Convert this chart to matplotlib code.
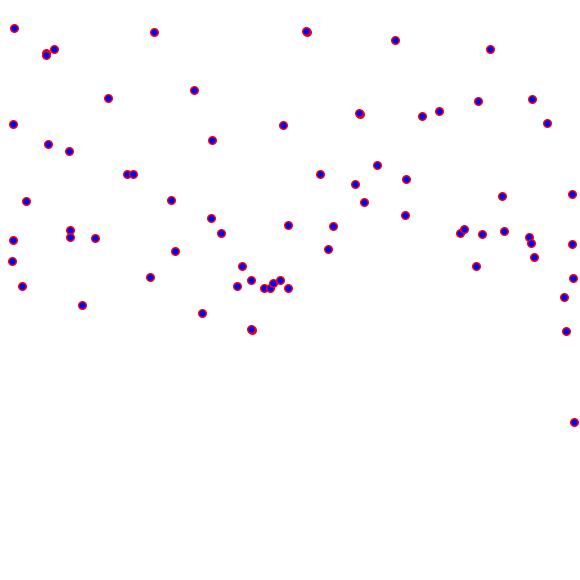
import numpy as np
import matplotlib
matplotlib.use('Agg')
import matplotlib.pyplot as plt

# point positions (x right, y down)
xs = [14, 46, 54, 154, 306, 395, 490,
      108, 194, 13, 48, 69, 212, 283, 359, 422, 439, 478, 532, 547,
      127, 133, 26, 171, 320, 377, 355, 406, 364, 502, 572,
      70, 70, 95, 13, 211, 221, 288, 333, 405, 460, 464, 482, 504, 529, 531, 572,
      12, 175, 328, 534, 476, 242, 22, 150, 82, 237, 251, 264, 270, 273, 280, 288,
      202, 251, 573, 564, 566, 574]
ys = [28, 55, 49, 32, 31, 40, 49,
      98, 90, 124, 144, 151, 140, 125, 113, 116, 111, 101, 99, 123,
      174, 174, 201, 200, 174, 165, 184, 179, 202, 196, 194,
      230, 237, 238, 240, 218, 233, 225, 226, 215, 233, 229, 234, 231, 237, 243, 244,
      261, 251, 249, 257, 266, 266, 286, 277, 305, 286, 280, 288, 288, 283, 280, 288,
      313, 329, 278, 297, 331, 422]

# a few points that sit almost on top of another one
dup_x = [46, 307, 252, 360]
dup_y = [53, 32, 330, 114]

def Graphic():
    fig = plt.figure(figsize=(5.8, 5.8), dpi=100)
    ax = fig.add_axes([0, 0, 1, 1])
    ax.scatter(dup_x, dup_y, s=30, c='blue', edgecolors='red', linewidths=1.0)
    ax.scatter(xs, ys, s=30, c='blue', edgecolors='red', linewidths=1.0)
    ax.set_xlim(0, 580)
    ax.set_ylim(580, 0)
    ax.axis('off')
    fig.savefig('out.png', dpi=100)

if __name__ == "__main__":
    Graphic()
